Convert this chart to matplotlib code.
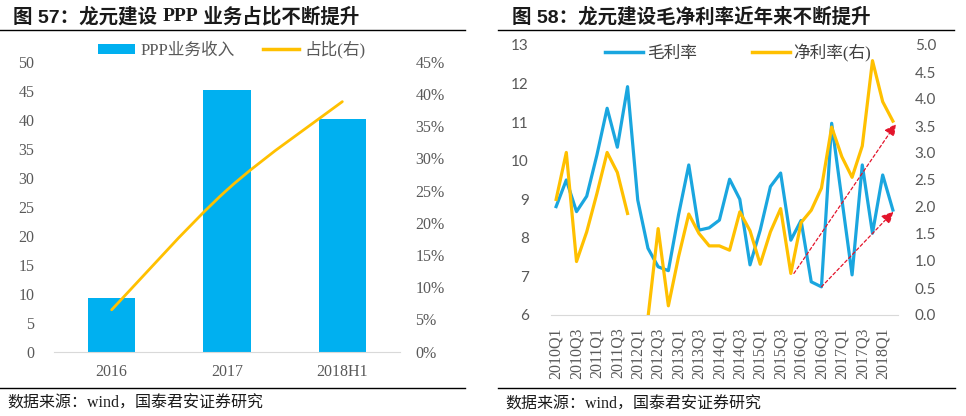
import numpy as np
import matplotlib
matplotlib.use('Agg')
import matplotlib.pyplot as plt
from matplotlib.path import Path
from matplotlib.patches import PathPatch, Patch
from matplotlib.lines import Line2D

# ---------------- data ----------------
ppp_categories = ['2016', '2017', '2018H1']
ppp_revenue = [9.3, 45.1, 40.1]          # PPP业务收入
ppp_share = [6.5, 25.1, 38.8]            # 占比(右), %

quarters = ['2010Q1', '2010Q2', '2010Q3', '2010Q4', '2011Q1', '2011Q2', '2011Q3', '2011Q4',
            '2012Q1', '2012Q2', '2012Q3', '2012Q4', '2013Q1', '2013Q2', '2013Q3', '2013Q4',
            '2014Q1', '2014Q2', '2014Q3', '2014Q4', '2015Q1', '2015Q2', '2015Q3', '2015Q4',
            '2016Q1', '2016Q2', '2016Q3', '2016Q4', '2017Q1', '2017Q2', '2017Q3', '2017Q4',
            '2018Q1', '2018Q2']
gross_margin = [8.81, 9.50, 8.68, 9.08, 10.15, 11.36, 10.35, 11.92, 8.98, 7.73, 7.25, 7.15,
                8.60, 9.89, 8.20, 8.26, 8.46, 9.52, 9.00, 7.30, 8.20, 9.33, 9.68, 7.94,
                8.45, 6.86, 6.73, 10.97, 9.00, 7.04, 9.89, 8.12, 9.63, 8.72]
net_margin = [2.14, 3.01, 0.99, 1.54, 2.25, 3.01, 2.64, 1.88, np.nan, -0.05, 1.60, 0.17,
              1.08, 1.87, 1.51, 1.28, 1.28, 1.20, 1.91, 1.56, 0.94, 1.54, 1.97, 0.77,
              1.71, 1.94, 2.35, 3.48, 2.93, 2.55, 3.13, 4.71, 3.95, 3.59]

# ---------------- style ----------------
BLUE = '#00B0F0'
LBLUE = '#1AA6DF'
YELLOW = '#FFC000'
GRAY = '#595959'
AXIS = '#D9D9D9'
SERIF = ['Liberation Serif', 'Noto Sans CJK SC']
SANS = ['Lato', 'Noto Sans CJK SC']
TITLE = ['Liberation Sans', 'Noto Sans CJK SC']

W, H = 966, 416
fig = plt.figure(figsize=(W / 100, H / 100), dpi=100)
fig.patch.set_facecolor('white')
renderer = fig.canvas.get_renderer()


def fx(px):
    return px / W


def fy(py):
    return 1 - py / H


def hline(x0, x1, y):
    fig.add_artist(Line2D([fx(x0), fx(x1)], [fy(y), fy(y)], transform=fig.transFigure,
                          color='black', lw=1.0))


def rich_title(x_px, y_px, pieces):
    """Draw consecutive text pieces (text, family) left to right."""
    x = x_px
    for txt, fam in pieces:
        t = fig.text(fx(x), fy(y_px), txt, family=fam, fontweight='bold', fontsize=14,
                     va='center', ha='left', color='#1a1a1a')
        bb = t.get_window_extent(renderer=renderer)
        x += bb.width


# titles, rules, sources
rich_title(13, 16.5, [('图 57：龙元建设 ', TITLE), ('PPP', SERIF), (' 业务占比不断提升', TITLE)])
rich_title(512, 16.5, [('图 58：龙元建设毛净利率近年来不断提升', TITLE)])
hline(0, 465, 30)
hline(498, 954, 30)
hline(0, 465, 388)
hline(498, 955, 388)
fig.text(fx(7), fy(403.5), '数据来源：wind，国泰君安证券研究', family=SERIF, fontsize=11.5,
         va='center', ha='left', color='#1a1a1a')
fig.text(fx(505), fy(405), '数据来源：wind，国泰君安证券研究', family=SERIF, fontsize=11.5,
         va='center', ha='left', color='#1a1a1a')

# ---------------- left chart ----------------
ax1 = fig.add_axes([fx(54), fy(351.7), fx(400) - fx(54), (351.7 - 61.7) / H])
xpos = np.arange(len(ppp_categories))
ax1.bar(xpos, ppp_revenue, width=0.41, color=BLUE, zorder=2)
ax1.set_xlim(-0.5, len(ppp_categories) - 0.5)
ax1.set_ylim(0, 50)
ax1.set_yticks(np.arange(0, 51, 5))
ax1.set_xticks(xpos)
ax1.set_xticklabels(ppp_categories)
for s in ['top', 'right', 'left']:
    ax1.spines[s].set_visible(False)
ax1.spines['bottom'].set_color(AXIS)
ax1.tick_params(axis='both', length=0, colors=GRAY, labelsize=11.5)
ax1.tick_params(axis='y', pad=14)
ax1.tick_params(axis='x', pad=9)
for lab in ax1.get_xticklabels() + ax1.get_yticklabels():
    lab.set_family(SERIF)

ax1b = ax1.twinx()
ax1b.set_ylim(0, 45)
ax1b.set_yticks(np.arange(0, 46, 5))
ax1b.set_yticklabels([f'{v}%' for v in range(0, 46, 5)])
for s in ax1b.spines.values():
    s.set_visible(False)
ax1b.tick_params(axis='y', length=0, colors=GRAY, labelsize=11.5, pad=11)
for lab in ax1b.get_yticklabels():
    lab.set_family(SERIF)

# smoothed (Catmull-Rom style bezier) line through the share points
pts = np.column_stack([xpos, ppp_share]).astype(float)
ext = np.vstack([pts[0], pts, pts[-1]])
verts = [tuple(pts[0])]
codes = [Path.MOVETO]
for i in range(len(pts) - 1):
    p0, p1, p2, p3 = ext[i], ext[i + 1], ext[i + 2], ext[i + 3]
    c1 = p1 + (p2 - p0) / 6.0
    c2 = p2 - (p3 - p1) / 6.0
    verts += [tuple(c1), tuple(c2), tuple(p2)]
    codes += [Path.CURVE4] * 3
ax1b.add_patch(PathPatch(Path(verts, codes), facecolor='none', edgecolor=YELLOW,
                         lw=2.0, capstyle='round', zorder=3))

leg1 = ax1.legend(handles=[Patch(facecolor=BLUE, edgecolor='none', label='PPP业务收入'),
                           Line2D([], [], color=YELLOW, lw=2.5, label='占比(右)')],
                  loc='center', bbox_to_anchor=(fx(232), fy(50)),
                  bbox_transform=fig.transFigure, ncol=2, frameon=False,
                  handlelength=2.2, handleheight=0.6, handletextpad=0.3, columnspacing=1.7,
                  prop={'family': SERIF, 'size': 12})
for t in leg1.get_texts():
    t.set_color(GRAY)

# ---------------- right chart ----------------
ax2 = fig.add_axes([fx(551), fy(315), fx(898) - fx(551), (315 - 45) / H])
qidx = np.arange(len(quarters))
ax2.plot(qidx, gross_margin, color=LBLUE, lw=2.3, zorder=2)
ax2.set_xlim(-0.5, len(quarters) - 0.5)
ax2.set_ylim(6, 13)
ax2.set_yticks(np.arange(6, 14, 1))
ax2.set_xticks(qidx[::2])
ax2.set_xticklabels(quarters[::2], rotation=90)
for s in ['top', 'right', 'left']:
    ax2.spines[s].set_visible(False)
ax2.spines['bottom'].set_color(AXIS)
ax2.tick_params(axis='both', length=0, colors=GRAY)
ax2.tick_params(axis='y', labelsize=11, pad=16)
ax2.tick_params(axis='x', labelsize=11.5, pad=9)
for lab in ax2.get_yticklabels():
    lab.set_family(SANS)
for lab in ax2.get_xticklabels():
    lab.set_family(SERIF)

ax2b = ax2.twinx()
ax2b.plot(qidx, net_margin, color=YELLOW, lw=2.3, zorder=2)
ax2b.set_ylim(0, 5)
ax2b.set_yticks(np.arange(0, 5.01, 0.5))
ax2b.set_yticklabels([f'{v:.1f}' for v in np.arange(0, 5.01, 0.5)])
for s in ax2b.spines.values():
    s.set_visible(False)
ax2b.tick_params(axis='y', length=0, colors=GRAY, labelsize=11, pad=12)
for lab in ax2b.get_yticklabels():
    lab.set_family(SANS)

# trend arrows
arrow_kw = dict(arrowstyle='-|>,head_length=0.7,head_width=0.35', color='#E3142B',
                lw=0.9, linestyle=(0, (2.5, 2)), shrinkA=0, shrinkB=0, mutation_scale=10)
i0, i1 = 23, len(quarters) - 1
ax2b.annotate('', xy=(i1 + 0.3, net_margin[i1] - 0.05), xytext=(i0 + 0.3, net_margin[i0]),
              arrowprops=arrow_kw, zorder=5)
j0 = 26
ax2.annotate('', xy=(i1 + 0.05, gross_margin[i1] - 0.04), xytext=(j0, gross_margin[j0]),
             arrowprops=arrow_kw, zorder=5)

leg2 = ax2b.legend(handles=[Line2D([], [], color=LBLUE, lw=2.5, label='毛利率'),
                            Line2D([], [], color=YELLOW, lw=2.5, label='净利率(右)')],
                   loc='center', bbox_to_anchor=(fx(738), fy(53)),
                   bbox_transform=fig.transFigure, ncol=2, frameon=False,
                   handlelength=2.3, handletextpad=0.2, columnspacing=3.3,
                   prop={'family': SERIF, 'size': 12})
for t in leg2.get_texts():
    t.set_color('#404040')

fig.savefig('out.png', dpi=100, facecolor='white')
